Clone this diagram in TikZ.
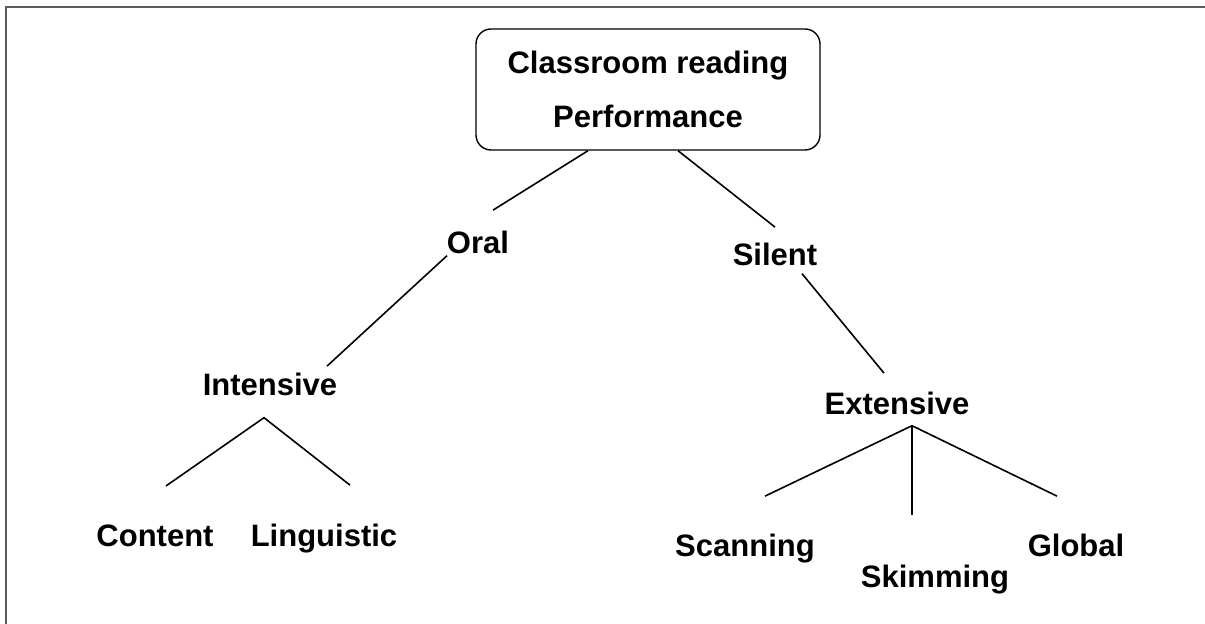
\documentclass[tikz,border=0pt]{standalone}
\usepackage{fontspec}
\setmainfont{Liberation Sans}
\usetikzlibrary{calc}
\definecolor{framegray}{RGB}{90,90,90}

\begin{document}
\begin{tikzpicture}[x=0.5pt,y=-0.5pt,
  every node/.style={font=\bfseries\fontsize{15.5}{27}\selectfont, inner sep=0pt},
  branch/.style={line width=0.8pt},
  topbox/.style={draw, rounded corners=7.5pt, line width=0.7pt, minimum width=172pt, minimum height=60.5pt, align=center}]
\useasboundingbox (0,0) rectangle (1205,624);
\draw [framegray, line width=1pt] (5.5,624) -- (5.5,7.5) -- (1205,7.5);

\node [topbox] (perf) at (648,89.5) {Classroom reading\\Performance};
\node [anchor=base] (oral) at (478,254) {Oral};
\node [anchor=base] (silent) at (775,266) {Silent};
\node [anchor=base] (intensive) at (270,396) {Intensive};
\node [anchor=base] (extensive) at (897,415) {Extensive};
\node [anchor=base] (content) at (155,547) {Content};
\node [anchor=base] (linguistic) at (324,547) {Linguistic};
\node [anchor=base] (scanning) at (745,557) {Scanning};
\node [anchor=base] (skimming) at (935,588) {Skimming};
\node [anchor=base] (global) at (1076,557) {Global};

\draw [branch] ($(perf.south)+(-60,0)$) -- ($(oral.north)+(15,-21)$);
\draw [branch] ($(perf.south)+(30,0)$) -- ($(silent.north)+(0,-16)$);
\draw [branch] ($(oral.south)+(-31,1)$) -- ($(intensive.north)+(57,-7)$);
\draw [branch] ($(silent.south)+(27,7)$) -- ($(extensive.north)+(-13,-19)$);
% intensive
\draw [branch] ($(content.north)+(11,-39)$) -- ($(intensive.south)+(-6,21)$) -- ($(linguistic.north)+(26,-39)$);
% extensive
\draw [branch] ($(scanning.north)+(20,-38)$) -- ($(extensive.south)+(15,10)$) -- ($(global.north)+(-19,-38)$);
\draw [line width=1.3pt] ($(extensive.south)+(15,10)$) -- ($(skimming.north)+(-23,-50)$);

\end{tikzpicture}
\end{document}
